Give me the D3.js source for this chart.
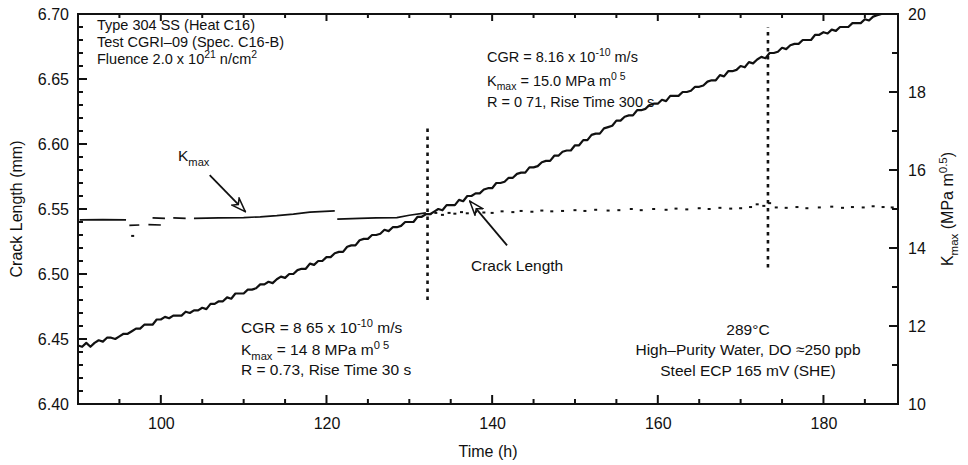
<!DOCTYPE html>
<html>
<head>
<meta charset="utf-8">
<script src="https://cdn.jsdelivr.net/npm/d3@7"></script>
<style>
body { margin: 0; background: #fff; }
text { font-family: "Liberation Sans", Arial, sans-serif; fill: #111; }
</style>
</head>
<body>
<svg id="chart"></svg>
<script>
var width = 968, height = 465;
var margin = {top: 14, right: 70, bottom: 61, left: 78};
var plotW = width - margin.left - margin.right;
var plotH = height - margin.top - margin.bottom;

// time axis (h)
var timeDomain = [90, 189];
var timeMajor = [100, 120, 140, 160, 180];
var timeMinor = [95, 105, 110, 115, 125, 130, 135, 145, 150, 155, 165, 170, 175, 185];
// crack length axis (mm)
var crackDomain = [6.40, 6.70];
var crackMajor = [6.40, 6.45, 6.50, 6.55, 6.60, 6.65, 6.70];
// Kmax axis (MPa m^0.5)
var kmaxDomain = [10, 20];
var kmaxMajor = [10, 12, 14, 16, 18, 20];
var kmaxMinor = [11, 13, 15, 17, 19];

// crack length, sampled every 0.5 h from 90 h
var crackStart = 90, crackStep = 0.5;
var crackLength = [
  6.445,
  6.444, 6.447, 6.444, 6.447, 6.449, 6.448, 6.451, 6.451, 6.450, 6.452,
  6.454, 6.454, 6.456, 6.458, 6.458, 6.461, 6.461, 6.461, 6.465, 6.465,
  6.467, 6.466, 6.468, 6.468, 6.468, 6.471, 6.470, 6.472, 6.472, 6.474,
  6.473, 6.477, 6.477, 6.479, 6.479, 6.482, 6.481, 6.485, 6.485, 6.485,
  6.488, 6.488, 6.489, 6.492, 6.492, 6.494, 6.493, 6.496, 6.498, 6.497,
  6.500, 6.500, 6.503, 6.504, 6.504, 6.508, 6.507, 6.510, 6.510, 6.513,
  6.513, 6.516, 6.517, 6.517, 6.521, 6.522, 6.522, 6.526, 6.527, 6.527,
  6.530, 6.530, 6.531, 6.534, 6.533, 6.536, 6.536, 6.537, 6.540, 6.540,
  6.540, 6.544, 6.544, 6.546, 6.546, 6.548, 6.550, 6.549, 6.553, 6.553,
  6.553, 6.557, 6.556, 6.560, 6.560, 6.562, 6.562, 6.565, 6.566, 6.566,
  6.570, 6.570, 6.571, 6.574, 6.574, 6.577, 6.578, 6.578, 6.582, 6.582,
  6.583, 6.586, 6.587, 6.587, 6.591, 6.591, 6.594, 6.595, 6.595, 6.599,
  6.599, 6.603, 6.603, 6.607, 6.608, 6.608, 6.612, 6.613, 6.614, 6.618,
  6.618, 6.621, 6.622, 6.622, 6.626, 6.626, 6.627, 6.630, 6.631, 6.631,
  6.634, 6.633, 6.637, 6.637, 6.637, 6.640, 6.640, 6.641, 6.644, 6.644,
  6.645, 6.648, 6.649, 6.649, 6.653, 6.652, 6.656, 6.656, 6.657, 6.660,
  6.659, 6.663, 6.662, 6.665, 6.667, 6.666, 6.670, 6.670, 6.671, 6.674,
  6.673, 6.676, 6.677, 6.677, 6.680, 6.680, 6.680, 6.684, 6.684, 6.686,
  6.685, 6.688, 6.687, 6.690, 6.690, 6.690, 6.693, 6.693, 6.693, 6.696,
  6.695, 6.698, 6.699, 6.700
];

// Kmax trace: [time, Kmax], null = gap
var kmaxTrace = [
  [90.2, 14.72], [93, 14.73], [95.8, 14.72], [95.9, null],
  [96.2, 14.58], [97.4, 14.59], [97.5, null],
  [98.5, 14.60], [100, 14.59], [100.1, null],
  [99, 14.77], [100.5, 14.76], [100.6, null],
  [101.5, 14.77], [103, 14.76], [103.1, null],
  [104, 14.76], [107, 14.77], [110, 14.78], [112, 14.80], [114, 14.83],
  [116, 14.87], [118, 14.92], [121, 14.95], [121.1, null],
  [121.3, 14.74], [124, 14.76], [126, 14.77], [128.5, 14.78], [130, 14.84], [132, 14.90]
];
var kmaxSpike = [[96.6, 14.31]];
var kmaxDotTime = [132.5, 133.2, 134, 134.8, 135.5, 136.3, 137, 138, 139, 140,
  141.2, 142.5, 143.5, 144.8, 146, 147.2, 148.5, 150, 151.2, 152.5,
  154, 155.3, 156.8, 158, 159.5, 161, 162.2, 163.5, 165, 166.2,
  167.5, 168.8, 170, 171.2, 172, 172.8, 173.5, 174.3, 175.5, 176.8,
  178, 179.5, 181, 182.3, 183.5, 184.8, 186, 187.2, 188.3];
var kmaxDotValue = [14.87, 14.90, 14.85, 14.90, 14.88, 14.92, 14.89, 14.93, 14.91, 14.90,
  14.94, 14.92, 14.95, 14.93, 14.96, 14.94, 14.95, 14.97, 14.95, 14.98,
  14.96, 14.97, 15.00, 14.97, 15.00, 14.98, 15.01, 14.99, 15.02, 15.00,
  15.03, 15.01, 15.02, 15.05, 15.12, 15.08, 15.15, 15.04, 15.03, 15.05,
  15.02, 15.04, 15.06, 15.03, 15.05, 15.04, 15.07, 15.05, 15.04];

// loading change markers: time, crack length range
var changeTime = [132.2, 173.3];
var changeFrom = [6.480, 6.505];
var changeTo = [6.615, 6.690];

var svg = d3.select("#chart").attr("width", width).attr("height", height);
svg.append("rect").attr("width", width).attr("height", height).attr("fill", "#fff");
var g = svg.append("g").attr("transform", "translate(" + margin.left + "," + margin.top + ")");

var x = d3.scaleLinear().domain(timeDomain).range([0, plotW]);
var yL = d3.scaleLinear().domain(crackDomain).range([plotH, 0]);
var yR = d3.scaleLinear().domain(kmaxDomain).range([plotH, 0]);

// tick labels from the axes
function addLabels(axis, tf) {
  var a = g.append("g").attr("transform", tf).call(axis);
  a.select(".domain").remove();
  a.selectAll("line").remove();
  a.selectAll("text").style("font-size", "16px").attr("fill", "#111");
}
addLabels(d3.axisBottom(x).tickValues(timeMajor).tickSize(0).tickPadding(14).tickFormat(d3.format("d")), "translate(0," + plotH + ")");
addLabels(d3.axisLeft(yL).tickValues(crackMajor).tickSize(0).tickPadding(9).tickFormat(d3.format(".2f")), "translate(0,0)");
addLabels(d3.axisRight(yR).tickValues(kmaxMajor).tickSize(0).tickPadding(10).tickFormat(d3.format("d")), "translate(" + plotW + ",0)");

// inward tick marks
function hTicks(vals, y0, len) {
  g.append("g").selectAll("line").data(vals).enter().append("line")
    .attr("x1", function(d) { return x(d); }).attr("x2", function(d) { return x(d); })
    .attr("y1", y0).attr("y2", y0 + len).attr("stroke", "#111").attr("stroke-width", 2);
}
function vTicks(vals, scale, x0, len) {
  g.append("g").selectAll("line").data(vals).enter().append("line")
    .attr("y1", function(d) { return scale(d); }).attr("y2", function(d) { return scale(d); })
    .attr("x1", x0).attr("x2", x0 + len).attr("stroke", "#111").attr("stroke-width", 2);
}
hTicks(timeMajor, plotH, -9);
hTicks(timeMinor, plotH, -5);
hTicks(timeMajor, 0, 7);
hTicks(timeMinor, 0, 4);
vTicks(crackMajor, yL, 0, 9);
vTicks(d3.range(6.41, 6.70, 0.01).filter(function(v) { return Math.round(v * 100) % 5 !== 0; }), yL, 0, 5);
vTicks(kmaxMajor, yR, plotW, -9);
vTicks(kmaxMinor, yR, plotW, -6);

g.append("rect").attr("width", plotW).attr("height", plotH)
  .attr("fill", "none").attr("stroke", "#111").attr("stroke-width", 2);

// Kmax
var kLine = d3.line().defined(function(d) { return d[1] !== null; })
  .x(function(d) { return x(d[0]); }).y(function(d) { return yR(d[1]); });
g.append("path").datum(kmaxTrace).attr("d", kLine)
  .attr("fill", "none").attr("stroke", "#111").attr("stroke-width", 1.7);
var dots = kmaxDotTime.map(function(t, i) { return [t, kmaxDotValue[i]]; }).concat(kmaxSpike);
g.selectAll(".kdot").data(dots).enter().append("rect")
  .attr("x", function(d) { return x(d[0]) - 1.5; })
  .attr("y", function(d) { return yR(d[1]) - 1; })
  .attr("width", 3).attr("height", 2).attr("fill", "#111");

// crack length
var crackPts = crackLength.map(function(v, i) { return [crackStart + i * crackStep, v]; });
g.append("path").datum(crackPts)
  .attr("d", d3.line().x(function(d) { return x(d[0]); }).y(function(d) { return yL(d[1]); }))
  .attr("fill", "none").attr("stroke", "#111").attr("stroke-width", 2.2).attr("stroke-linejoin", "round");

// dotted markers
changeTime.forEach(function(t, i) {
  g.append("line").attr("x1", x(t)).attr("x2", x(t))
    .attr("y1", yL(changeFrom[i])).attr("y2", yL(changeTo[i]))
    .attr("stroke", "#111").attr("stroke-width", 2.6).attr("stroke-dasharray", "3.5,4.5");
});

// arrows with open heads
var defs = svg.append("defs");
defs.append("marker").attr("id", "openHead").attr("viewBox", "0 0 16 12")
  .attr("refX", 15).attr("refY", 6).attr("markerWidth", 16).attr("markerHeight", 12)
  .attr("markerUnits", "userSpaceOnUse").attr("orient", "auto")
  .append("path").attr("d", "M1,1 L15,6 L1,11 L5,6 Z")
  .attr("fill", "#fff").attr("stroke", "#111").attr("stroke-width", 1.5);
function arrow(t0, v0, t1, v1) {
  g.append("line").attr("x1", x(t0)).attr("y1", yL(v0)).attr("x2", x(t1)).attr("y2", yL(v1))
    .attr("stroke", "#111").attr("stroke-width", 1.8).attr("marker-end", "url(#openHead)");
}
arrow(105.9, 6.576, 110.2, 6.548);
arrow(141.8, 6.522, 137.3, 6.556);

// text helper: parts [text, "sup"|"sub"|undefined]
function rich(x0, y0, parts, size, anchor) {
  var t = svg.append("text").attr("x", x0).attr("y", y0)
    .attr("text-anchor", anchor || "start").style("font-size", size + "px");
  var cur = 0;
  parts.forEach(function(p) {
    var shift = p[1] === "sup" ? -size * 0.38 : p[1] === "sub" ? size * 0.3 : 0;
    var s = t.append("tspan").attr("dy", shift - cur).text(p[0]);
    if (p[1]) s.style("font-size", (size * 0.72) + "px");
    cur = shift;
  });
  return t;
}

var fs = 15.5, fsTop = 14.5;
rich(97, 30, [["Type 304 SS (Heat C16)"]], fsTop);
rich(97, 47, [["Test CGRI\u201309 (Spec. C16-B)"]], fsTop);
rich(97, 64, [["Fluence 2.0 x 10"], ["21", "sup"], [" n/cm"], ["2", "sup"]], fsTop);

rich(487, 62, [["CGR = 8.16 x 10"], ["-10", "sup"], [" m/s"]], fsTop);
rich(487, 86, [["K"], ["max", "sub"], [" = 15.0 MPa m"], ["0 5", "sup"]], fsTop);
rich(487, 107, [["R = 0 71, Rise Time 300 s"]], fsTop);

rich(241, 333, [["CGR = 8 65 x 10"], ["-10", "sup"], [" m/s"]], fs);
rich(241, 355, [["K"], ["max", "sub"], [" = 14 8 MPa m"], ["0 5", "sup"]], fs);
rich(241, 375, [["R = 0.73, Rise Time 30 s"]], fs);

rich(748, 335, [["289\u00B0C"]], fs, "middle");
rich(748, 355, [["High\u2013Purity Water, DO \u2248250 ppb"]], fs, "middle");
rich(748, 376, [["Steel ECP 165 mV (SHE)"]], fs, "middle");

rich(178, 161, [["K"], ["max", "sub"]], fs);
rich(471, 271, [["Crack Length"]], fs);

// axis titles
rich(488, 457, [["Time (h)"]], 16, "middle");
rich(0, 0, [["Crack Length (mm)"]], 16, "middle")
  .attr("transform", "translate(22," + (margin.top + plotH / 2) + ") rotate(-90)");
rich(0, 0, [["K"], ["max", "sub"], [" (MPa m"], ["0.5", "sup"], [")"]], 16, "middle")
  .attr("transform", "translate(953," + (margin.top + plotH / 2) + ") rotate(-90)");
</script>
</body>
</html>
